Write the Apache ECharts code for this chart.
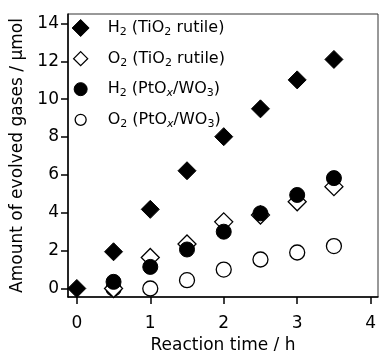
<!DOCTYPE html>
<html lang="en">
<head>
    <meta charset="UTF-8">
    <title>Evolved gases</title>
    <script src="https://cdn.jsdelivr.net/npm/echarts@6/dist/echarts.min.js"></script>
    <style>
        html, body { margin: 0; padding: 0; background: #fff; }
        #chart { width: 379px; height: 351px; }
    </style>
</head>
<body>
<div id="chart"></div>
<script type="text/javascript">
    // data
    var timeH = [0, 0.5, 1, 1.5, 2, 2.5, 3, 3.5];
    var h2Rutile = [0, 1.94, 4.18, 6.22, 8.02, 9.49, 11.02, 12.1];
    var o2Rutile = [null, 0, 1.64, 2.35, 3.52, 3.88, 4.58, 5.38];
    var h2PtWO3 = [null, 0.35, 1.14, 2.06, 3.0, 3.97, 4.94, 5.83];
    var o2PtWO3 = [null, 0, 0, 0.44, 1.0, 1.53, 1.9, 2.24];
    var xTicks = [0, 1, 2, 3, 4];
    var yTicks = [0, 2, 4, 6, 8, 10, 12, 14];

    var names = ['H2 (TiO2 rutile)', 'O2 (TiO2 rutile)', 'H2 (PtOx/WO3)', 'O2 (PtOx/WO3)'];
    // rich text for subscripts
    var richNames = {
        'H2 (TiO2 rutile)': '{n|H}{s|2}{n| (TiO}{s|2}{n| rutile)}',
        'O2 (TiO2 rutile)': '{n|O}{s|2}{n| (TiO}{s|2}{n| rutile)}',
        'H2 (PtOx/WO3)': '{n|H}{s|2}{n| (PtO}{i|x}{n|/WO}{s|3}{n|)}',
        'O2 (PtOx/WO3)': '{n|O}{s|2}{n| (PtO}{i|x}{n|/WO}{s|3}{n|)}'
    };

    // legend icons inside a 44x17 box (the two M's fix the box)
    var box = 'path://M0,0M44,17';
    var iconFilledDiamond = box + 'M22,0L30.5,8.5L22,17L13.5,8.5Z';
    var iconOpenDiamond = box + 'M22,1.5L29,8.5L22,15.5L15,8.5Z';
    var iconFilledCircle = box + 'M15.5,8.5A6.5,6.5,0,1,1,28.5,8.5A6.5,6.5,0,1,1,15.5,8.5Z';
    var iconOpenCircle = box + 'M16.5,8.5A5.5,5.5,0,1,1,27.5,8.5A5.5,5.5,0,1,1,16.5,8.5Z';

    function pairs(arr) {
        var out = [];
        for (var i = 0; i < timeH.length; i++) {
            if (arr[i] !== null) out.push([timeH[i], arr[i]]);
        }
        return out;
    }

    var font = 'DejaVu Sans';
    var filled = {color: '#000', borderColor: '#000', borderWidth: 1, opacity: 1};
    var open = {color: '#fff', borderColor: '#000', borderWidth: 1.3, opacity: 1};

    var myChart = echarts.init(document.getElementById('chart'), null, {renderer: 'canvas'});
    var option = {
        animation: false,
        backgroundColor: '#fff',
        textStyle: {fontFamily: font, color: '#000'},
        grid: {
            left: 68, right: 1, top: 14, bottom: 54,
            containLabel: false,
            outerBoundsMode: 'none',
            show: true, borderColor: '#333', borderWidth: 1
        },
        legend: {
            orient: 'vertical',
            left: 53, top: 14,
            itemWidth: 44, itemHeight: 17,
            itemGap: 12,
            symbolKeepAspect: true,
            selectedMode: false,
            data: [
                {name: names[0], icon: iconFilledDiamond, itemStyle: filled},
                {name: names[1], icon: iconOpenDiamond, itemStyle: open},
                {name: names[2], icon: iconFilledCircle, itemStyle: filled},
                {name: names[3], icon: iconOpenCircle, itemStyle: open}
            ],
            formatter: function (name) { return richNames[name]; },
            textStyle: {
                fontFamily: font,
                rich: {
                    n: {fontFamily: font, fontSize: 16, color: '#000'},
                    s: {fontFamily: font, fontSize: 11, color: '#000', padding: [8, 0, 0, 0]},
                    i: {fontFamily: font, fontSize: 11, color: '#000', fontStyle: 'italic', padding: [8, 0, 0, 0]}
                }
            }
        },
        xAxis: {
            type: 'value',
            min: -0.12, max: 4.1,
            name: 'Reaction time / h',
            nameLocation: 'middle',
            nameGap: 37,
            nameTextStyle: {fontFamily: font, fontSize: 17, color: '#000'},
            splitLine: {show: false},
            axisLine: {onZero: false, lineStyle: {color: '#000', width: 1.5}},
            axisTick: {customValues: xTicks, length: 7, lineStyle: {color: '#000', width: 1.5}},
            axisLabel: {customValues: xTicks, fontFamily: font, fontSize: 17, color: '#000', margin: 18}
        },
        yAxis: {
            type: 'value',
            min: -0.45, max: 14.5,
            name: 'Amount of evolved gases / μmol',
            nameLocation: 'middle',
            nameGap: 36,
            nameTextStyle: {fontFamily: font, fontSize: 17, color: '#000'},
            splitLine: {show: false},
            axisLine: {show: true, onZero: false, lineStyle: {color: '#000', width: 1.5}},
            axisTick: {show: true, customValues: yTicks, length: 7, lineStyle: {color: '#000', width: 1.5}},
            axisLabel: {customValues: yTicks, fontFamily: font, fontSize: 17, color: '#000', margin: 9}
        },
        series: [
            {name: names[3], type: 'scatter', symbol: 'circle', symbolSize: 15, itemStyle: open, data: pairs(o2PtWO3)},
            {name: names[1], type: 'scatter', symbol: 'diamond', symbolSize: 18, itemStyle: open, data: pairs(o2Rutile)},
            {name: names[2], type: 'scatter', symbol: 'circle', symbolSize: 15, itemStyle: filled, data: pairs(h2PtWO3)},
            {name: names[0], type: 'scatter', symbol: 'diamond', symbolSize: 18, itemStyle: filled, data: pairs(h2Rutile)}
        ]
    };
    myChart.setOption(option);
</script>
</body>
</html>
